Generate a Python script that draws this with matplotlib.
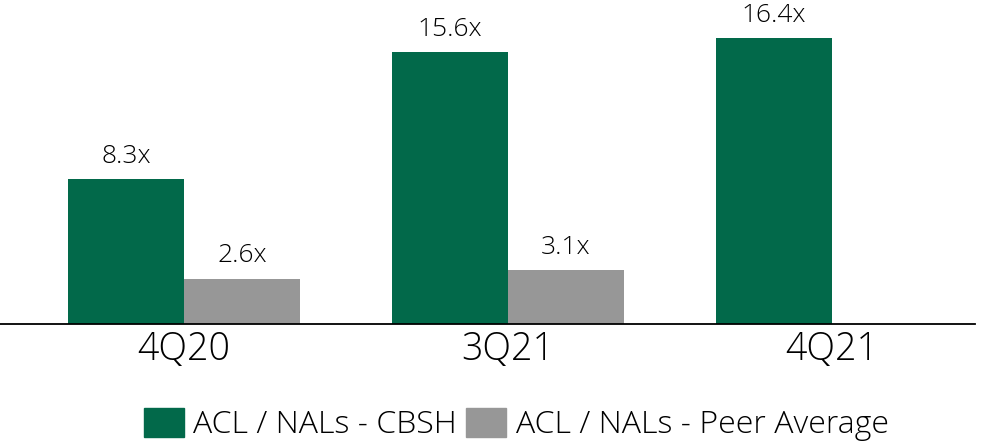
import numpy as np
import matplotlib
matplotlib.use("Agg")
import matplotlib.pyplot as plt
from matplotlib.patches import Patch

plt.rcParams['font.family'] = ['Open Sans', 'DejaVu Sans']
plt.rcParams['font.weight'] = 'light'

# Data
quarters = ['4Q20', '3Q21', '4Q21']
cbsh = [8.3, 15.6, 16.4]
peer = [2.6, 3.1, None]
series_names = ['ACL / NALs - CBSH', 'ACL / NALs - Peer Average']

green = '#02694A'
gray = '#979797'

fig = plt.figure(figsize=(9.89, 4.43), dpi=100)
ax = fig.add_axes([0, 119 / 443, 975 / 989, 324 / 443])

x = np.arange(len(quarters))
w = 116 / 324

ax.bar(x - w / 2, cbsh, width=w, color=green)
peer_x = [xi + w / 2 for xi, v in zip(x, peer) if v is not None]
peer_v = [v for v in peer if v is not None]
ax.bar(peer_x, peer_v, width=w, color=gray)

for xi, v in zip(x, cbsh):
    ax.text(xi - w / 2, v + 0.6, f'{v:.1f}x', ha='center', va='bottom', fontsize=19)
for xi, v in zip(peer_x, peer_v):
    ax.text(xi, v + 0.6, f'{v:.1f}x', ha='center', va='bottom', fontsize=19)

ax.set_xlim(-184 / 324, 791 / 324)
ax.set_ylim(0, 324 / 17.42)
ax.set_xticks(x)
ax.set_xticklabels(quarters, fontsize=27)
ax.tick_params(axis='x', length=0, pad=5)
ax.set_yticks([])
for s in ['top', 'right', 'left']:
    ax.spines[s].set_visible(False)
ax.spines['bottom'].set_linewidth(1.3)

handles = [Patch(color=green), Patch(color=gray)]
fig.legend(handles, series_names, loc='lower center', bbox_to_anchor=(0.522, 0.004),
           ncol=2, frameon=False, fontsize=23, handlelength=1.25, handleheight=1.0,
           columnspacing=0.3, handletextpad=0.3, borderpad=0, borderaxespad=0)

fig.savefig('out.png', dpi=100)
